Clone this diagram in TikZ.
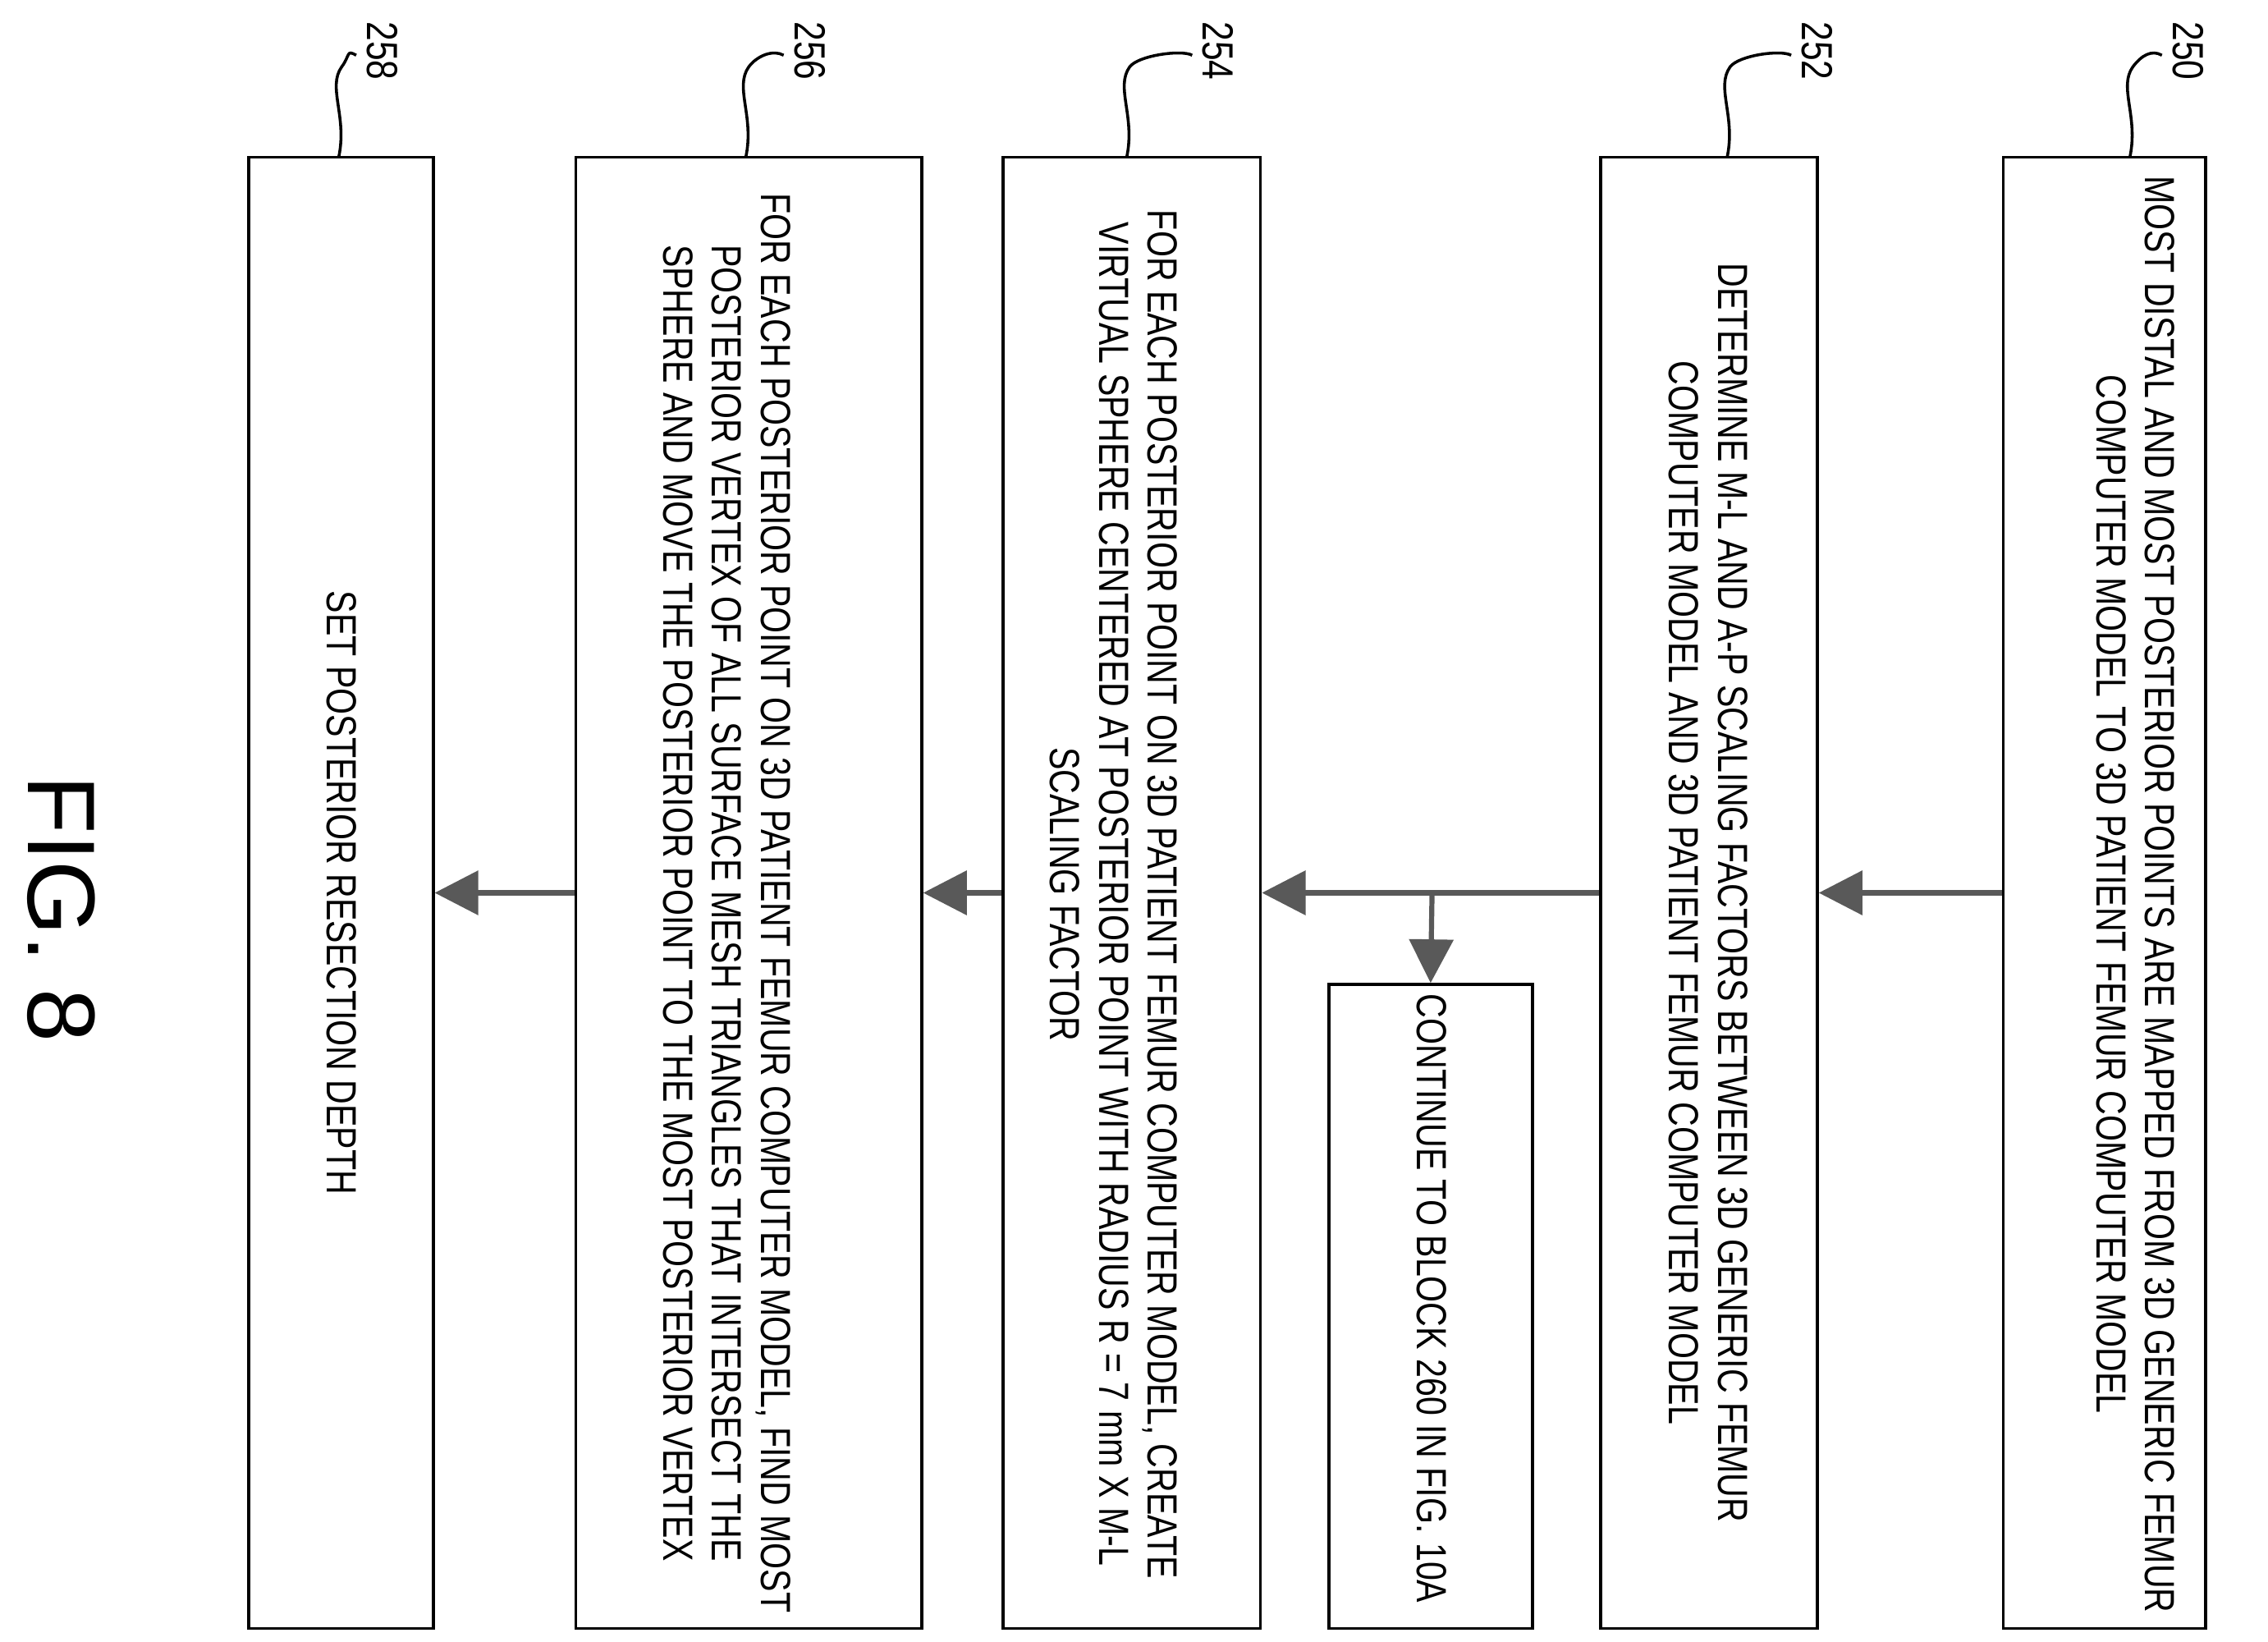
\documentclass[tikz,border=0pt]{standalone}
\usepackage{fontspec}
\setmainfont{Liberation Sans}
\newfontfamily\narrow[FakeStretch=0.8]{Liberation Sans}
\usetikzlibrary{arrows.meta}
\begin{document}
\begin{tikzpicture}[x=1pt,y=-1pt,
  box/.style={draw,line width=2pt,rotate=-90,inner sep=0pt},
  txt/.style={rotate=-90,align=center,font=\narrow\fontsize{29}{33.5}\selectfont,inner sep=0pt},
  flow/.style={line width=3.5pt,draw=black!65,-{Triangle[length=30pt,width=30pt,fill=black!65]}},
  lead/.style={line width=2pt},
  num/.style={rotate=-90,font=\narrow\fontsize{30}{34}\selectfont,inner sep=0pt}]
\useasboundingbox (0,0) rectangle (1560,1129);
\node[box,minimum width=1012pt,minimum height=139pt] (b250) at (1447.5,614) {};
\node[box,minimum width=1012pt,minimum height=149pt] (b252) at (1175.5,614) {};
\node[box,minimum width=1012pt,minimum height=177pt] (b254) at (778.5,614) {};
\node[box,minimum width=1012pt,minimum height=238pt] (b256) at (515,614) {};
\node[box,minimum width=1012pt,minimum height=127pt] (b258) at (234.5,614) {};
\node[box,minimum width=443pt,minimum height=140pt] (b260) at (984,898.5) {};
\node[txt] (t250) at (1469,615) {MOST DISTAL AND MOST POSTERIOR POINTS ARE MAPPED FROM 3D GENERIC FEMUR\\COMPUTER MODEL TO 3D PATIENT FEMUR COMPUTER MODEL};
\node[txt] (t252) at (1175,614) {DETERMINE M-L AND A-P SCALING FACTORS BETWEEN 3D GENERIC FEMUR\\COMPUTER MODEL AND 3D PATIENT FEMUR COMPUTER MODEL};
\node[txt] (t254) at (766,615) {FOR EACH POSTERIOR POINT ON 3D PATIENT FEMUR COMPUTER MODEL, CREATE\\VIRTUAL SPHERE CENTERED AT POSTERIOR POINT WITH RADIUS R = 7 mm X M-L\\SCALING FACTOR};
\node[txt] (t256) at (500,621) {FOR EACH POSTERIOR POINT ON 3D PATIENT FEMUR COMPUTER MODEL, FIND MOST\\POSTERIOR VERTEX OF ALL SURFACE MESH TRIANGLES THAT INTERSECT THE\\SPHERE AND MOVE THE POSTERIOR POINT TO THE MOST POSTERIOR VERTEX};
\node[txt] (t258) at (235,614) {SET POSTERIOR RESECTION DEPTH};
\node[txt] (t260) at (985,893) {CONTINUE TO BLOCK 260 IN FIG. 10A};
\coordinate (j) at (985,614);
\draw[flow] (b250.south) -- (b252.north);
\draw[flow] (b252.south) -- (b254.north);
\draw[flow] (j) -- (b260.west);
\draw[flow] (b254.south) -- (b256.north);
\draw[flow] (b256.south) -- (b258.north);
\foreach \s/\n/\t in {1465/1505/250,1188/1250/252,775/838/254,513/557/256,233/263/258}{
  \draw[lead] (\s,108) .. controls (\s+6,80) and (\s-8,60) .. (\s+2,46)
     .. controls (\s+8,38) and (\n-25,34) .. (\n-18,38);
  \node[num] (n\t) at (\n,35) {\t};
}
\node[rotate=-90,font=\fontsize{66}{70}\selectfont,inner sep=0pt] (fig) at (42,625) {FIG. 8};
\end{tikzpicture}
\end{document}
